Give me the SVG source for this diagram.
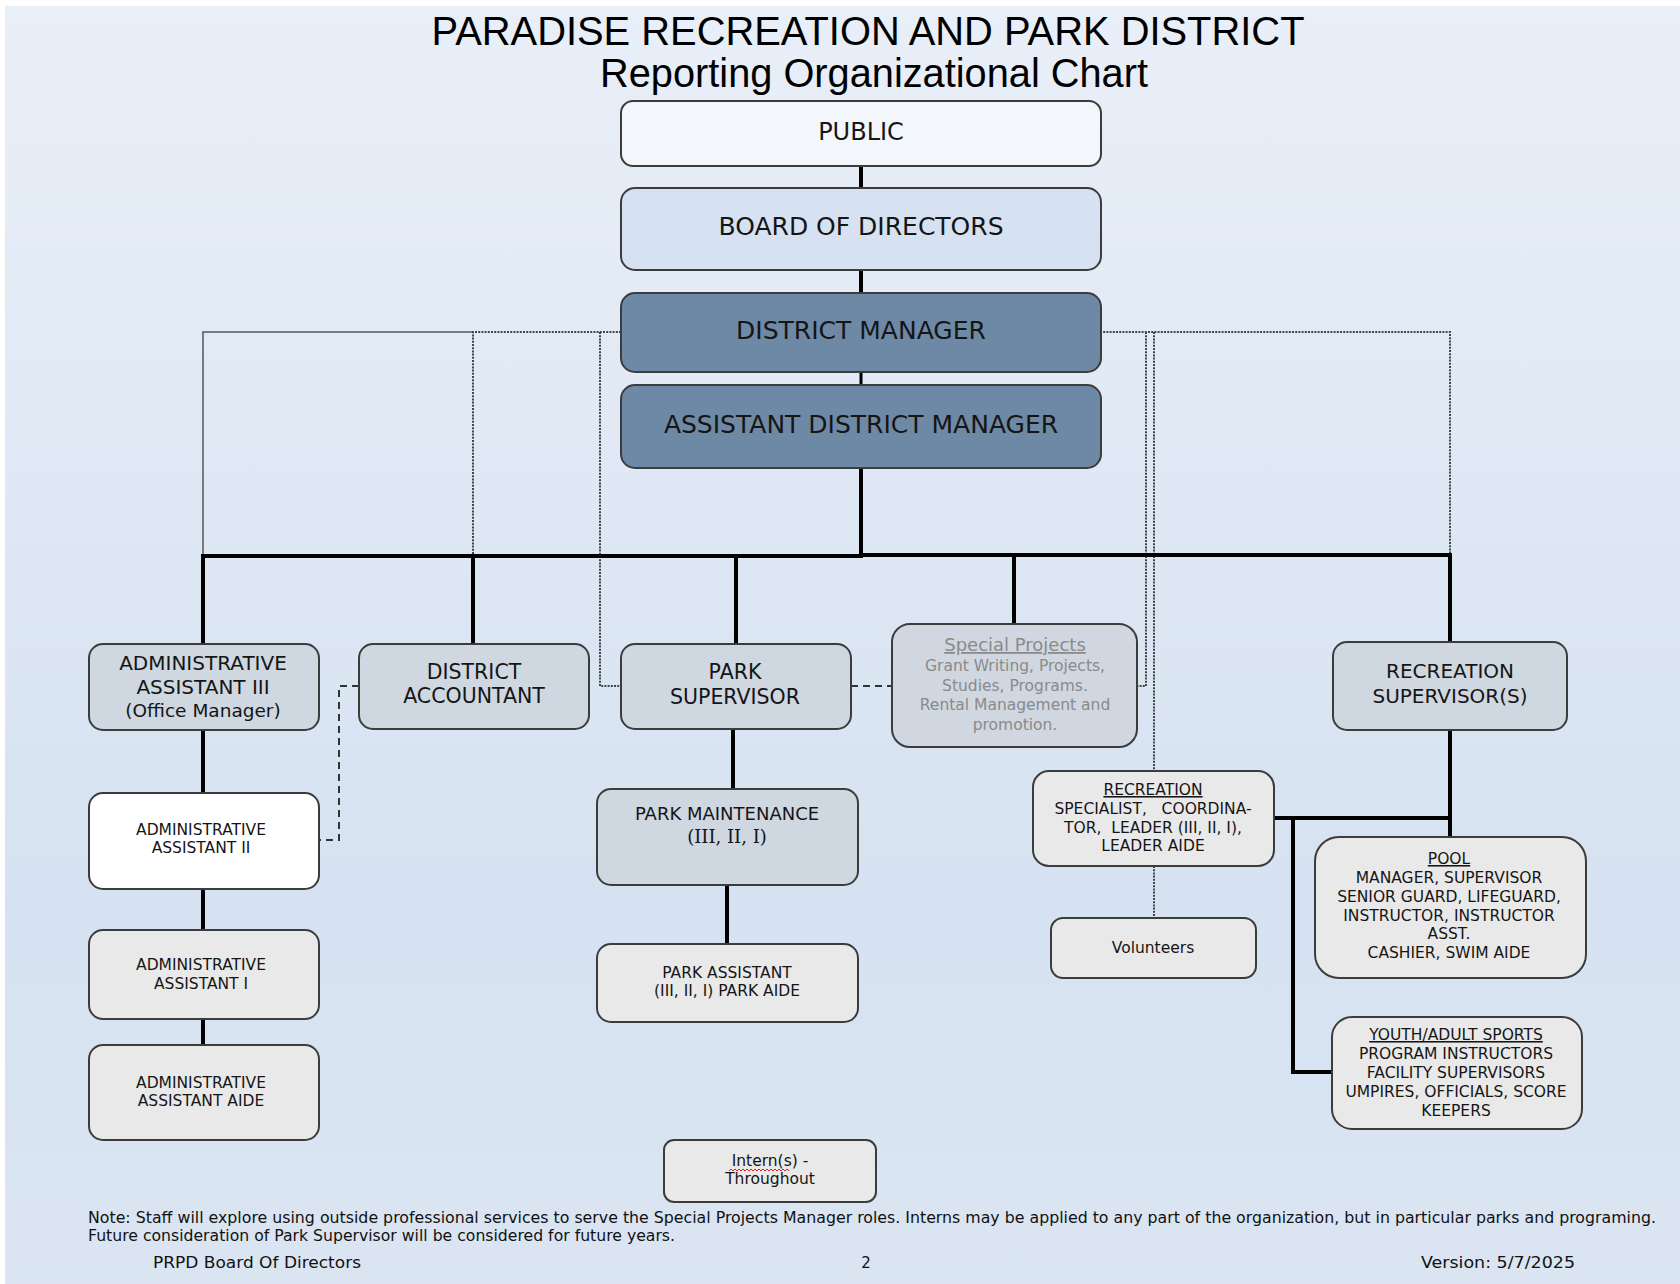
<svg xmlns="http://www.w3.org/2000/svg" width="1680" height="1284" viewBox="0 0 1680 1284">
<defs>
<linearGradient id="bg" x1="0" y1="0" x2="0" y2="1">
<stop offset="0" stop-color="#e9eff8"/>
<stop offset="0.7" stop-color="#d6e2f1"/>
<stop offset="1" stop-color="#dbe5f2"/>
</linearGradient>
<style>
.box{stroke:#3c3c3c;stroke-width:2}
.t{font-family:'DejaVu Sans','Noto Sans',sans-serif;fill:#151515;text-anchor:middle}
.title{font-family:'Liberation Sans Narrow','Liberation Sans',Arial,sans-serif;fill:#000;text-anchor:middle}
.foot{font-family:'DejaVu Sans','Noto Sans',sans-serif;fill:#111;font-size:15px}
.thick{stroke:#000;stroke-width:4;fill:none;stroke-linecap:square}
.thin{stroke:#555;stroke-width:1.5;fill:none}
.dot{stroke:#444;stroke-width:2;stroke-dasharray:2 1.2;fill:none}
.dash{stroke:#333;stroke-width:2;stroke-dasharray:7 5;fill:none}
.gb{fill:#cfd7e1}
.lg{fill:#e9e9e9}
.sp{font-family:'DejaVu Sans','Noto Sans',sans-serif;fill:#8a8a8a;text-anchor:middle}
</style>
</defs>
<rect x="0" y="0" width="1680" height="1284" fill="#ffffff"/>
<rect x="5" y="6" width="1675" height="1278" fill="url(#bg)"/>

<g id="title">
<text class="title" x="868" y="45" font-size="41" textLength="873" lengthAdjust="spacingAndGlyphs">PARADISE RECREATION AND PARK DISTRICT</text>
<text class="title" x="874" y="87" font-size="41" textLength="548" lengthAdjust="spacingAndGlyphs">Reporting Organizational Chart</text>
</g>

<g id="connectors">
<path class="thin" d="M473 332 H203 V556"/>
<path class="dot" d="M621 332 H473 V556"/>
<path class="dot" d="M600 332 V686 H621"/>
<path class="dot" d="M1100 332 H1450 V555"/>
<path class="dot" d="M1146 332 V686 H1137"/>
<path class="dot" d="M1154 332 V771"/>
<path class="dot" d="M1154 866 V918"/>
<path class="dash" d="M359 686 H339 V840 H319"/>
<path class="dash" d="M851 686 H892"/>
<path class="thick" d="M861 166 V188"/>
<path class="thick" d="M861 270 V293"/>
<path class="thick" style="stroke-width:3" d="M861 372 V385"/>
<path class="thick" d="M861 468 V556"/>
<path class="thick" d="M203 556 H861"/>
<path class="thick" d="M861 555 H1450"/>
<path class="thick" d="M203 556 V644"/>
<path class="thick" d="M473 556 V644"/>
<path class="thick" d="M736 556 V644"/>
<path class="thick" d="M1014 556 V624"/>
<path class="thick" d="M1450 555 V642"/>
<path class="thick" d="M203 730 V793"/>
<path class="thick" d="M203 889 V930"/>
<path class="thick" d="M203 1019 V1045"/>
<path class="thick" d="M733 729 V789"/>
<path class="thick" d="M727 885 V944"/>
<path class="thick" d="M1450 730 V837"/>
<path class="thick" d="M1450 818 H1275"/>
<path class="thick" d="M1293 818 V1072 H1332"/>
</g>

<g id="public">
<rect class="box" x="621" y="101" width="480" height="65" rx="12" fill="#f3f6fb"/>
<text class="t" x="861" y="140" font-size="24">PUBLIC</text>
</g>
<g id="board">
<rect class="box" x="621" y="188" width="480" height="82" rx="14" fill="#d6e2f1"/>
<text class="t" x="861" y="235" font-size="25">BOARD OF DIRECTORS</text>
</g>
<g id="district-manager">
<rect class="box" x="621" y="293" width="480" height="79" rx="14" fill="#6e89a6"/>
<text class="t" x="861" y="339" font-size="25">DISTRICT MANAGER</text>
</g>
<g id="assistant-district-manager">
<rect class="box" x="621" y="385" width="480" height="83" rx="14" fill="#6e89a6"/>
<text class="t" x="861" y="433" font-size="25">ASSISTANT DISTRICT MANAGER</text>
</g>
<g id="admin-3">
<rect class="box gb" x="89" y="644" width="230" height="86" rx="14"/>
<text class="t" x="203" y="670" font-size="20">ADMINISTRATIVE</text>
<text class="t" x="203" y="694" font-size="20">ASSISTANT III</text>
<text class="t" x="203" y="717" font-size="18.5">(Office Manager)</text>
</g>
<g id="district-accountant">
<rect class="box gb" x="359" y="644" width="230" height="85" rx="14"/>
<text class="t" x="474" y="679" font-size="20.5">DISTRICT</text>
<text class="t" x="474" y="703" font-size="20.5">ACCOUNTANT</text>
</g>
<g id="park-supervisor">
<rect class="box gb" x="621" y="644" width="230" height="85" rx="14"/>
<text class="t" x="735" y="679" font-size="20.5">PARK</text>
<text class="t" x="735" y="704" font-size="20.5">SUPERVISOR</text>
</g>
<g id="special-projects">
<rect class="box" x="892" y="624" width="245" height="123" rx="18" fill="#d0d7e0"/>
<text class="sp" x="1015" y="651" font-size="18" text-decoration="underline">Special Projects</text>
<text class="sp" x="1015" y="671" font-size="15.5">Grant Writing, Projects,</text>
<text class="sp" x="1015" y="691" font-size="15.5">Studies, Programs.</text>
<text class="sp" x="1015" y="710" font-size="15.5">Rental Management and</text>
<text class="sp" x="1015" y="730" font-size="15.5">promotion.</text>
</g>
<g id="recreation-supervisor">
<rect class="box gb" x="1333" y="642" width="234" height="88" rx="14"/>
<text class="t" x="1450" y="678" font-size="20">RECREATION</text>
<text class="t" x="1450" y="703" font-size="20">SUPERVISOR(S)</text>
</g>
<g id="admin-2">
<rect class="box" x="89" y="793" width="230" height="96" rx="14" fill="#ffffff"/>
<text class="t" x="201" y="835" font-size="15.5">ADMINISTRATIVE</text>
<text class="t" x="201" y="853" font-size="15.5">ASSISTANT II</text>
</g>
<g id="admin-1">
<rect class="box lg" x="89" y="930" width="230" height="89" rx="14"/>
<text class="t" x="201" y="970" font-size="15.5">ADMINISTRATIVE</text>
<text class="t" x="201" y="989" font-size="15.5">ASSISTANT I</text>
</g>
<g id="admin-aide">
<rect class="box lg" x="89" y="1045" width="230" height="95" rx="14"/>
<text class="t" x="201" y="1088" font-size="15.5">ADMINISTRATIVE</text>
<text class="t" x="201" y="1106" font-size="15.5">ASSISTANT AIDE</text>
</g>
<g id="park-maintenance">
<rect class="box gb" x="597" y="789" width="261" height="96" rx="14"/>
<text class="t" x="727" y="820" font-size="18">PARK MAINTENANCE</text>
<text class="t" x="727" y="843" font-size="18" style="font-family:'DejaVu Serif',serif">(III, II, I)</text>
</g>
<g id="park-assistant">
<rect class="box lg" x="597" y="944" width="261" height="78" rx="14"/>
<text class="t" x="727" y="978" font-size="15.5">PARK ASSISTANT</text>
<text class="t" x="727" y="996" font-size="15.5">(III, II, I) PARK AIDE</text>
</g>
<g id="interns">
<rect class="box lg" x="664" y="1140" width="212" height="62" rx="10"/>
<text class="t" x="770" y="1166" font-size="15.5">Intern(s) -</text>
<path d="M729 1171 l2 -2 l2 2 l2 -2 l2 2 l2 -2 l2 2 l2 -2 l2 2 l2 -2 l2 2 l2 -2 l2 2 l2 -2 l2 2 l2 -2 l2 2 l2 -2 l2 2 l2 -2 l2 2 l2 -2 l2 2 l2 -2 l2 2 l2 -2 l2 2 l2 -2 l2 2 l2 -2 l2 2" fill="none" stroke="#e02020" stroke-width="1"/>
<text class="t" x="770" y="1184" font-size="15.5">Throughout</text>
</g>
<g id="recreation">
<rect class="box lg" x="1033" y="771" width="241" height="95" rx="16"/>
<text class="t" x="1153" y="795" font-size="15.5" text-decoration="underline">RECREATION</text>
<text class="t" x="1153" y="814" font-size="15.5" style="white-space:pre">SPECIALIST,   COORDINA-</text>
<text class="t" x="1153" y="833" font-size="15.5" style="white-space:pre">TOR,  LEADER (III, II, I),</text>
<text class="t" x="1153" y="851" font-size="15.5">LEADER AIDE</text>
</g>
<g id="volunteers">
<rect class="box lg" x="1051" y="918" width="205" height="60" rx="12"/>
<text class="t" x="1153" y="953" font-size="15.5">Volunteers</text>
</g>
<g id="pool">
<rect class="box lg" x="1315" y="837" width="271" height="141" rx="24"/>
<text class="t" x="1449" y="864" font-size="15.5" text-decoration="underline">POOL</text>
<text class="t" x="1449" y="883" font-size="15.5">MANAGER, SUPERVISOR</text>
<text class="t" x="1449" y="902" font-size="15.5">SENIOR GUARD, LIFEGUARD,</text>
<text class="t" x="1449" y="921" font-size="15.5">INSTRUCTOR, INSTRUCTOR</text>
<text class="t" x="1449" y="939" font-size="15.5">ASST.</text>
<text class="t" x="1449" y="958" font-size="15.5">CASHIER, SWIM AIDE</text>
</g>
<g id="youth-adult-sports">
<rect class="box lg" x="1332" y="1017" width="250" height="112" rx="20"/>
<text class="t" x="1456" y="1040" font-size="15.5" text-decoration="underline">YOUTH/ADULT SPORTS</text>
<text class="t" x="1456" y="1059" font-size="15.5">PROGRAM INSTRUCTORS</text>
<text class="t" x="1456" y="1078" font-size="15.5">FACILITY SUPERVISORS</text>
<text class="t" x="1456" y="1097" font-size="15.5">UMPIRES, OFFICIALS, SCORE</text>
<text class="t" x="1456" y="1116" font-size="15.5">KEEPERS</text>
</g>

<g id="footer">
<text class="foot" x="88" y="1223" font-size="14.5" textLength="1568" lengthAdjust="spacingAndGlyphs">Note:  Staff will explore using outside professional services to serve the Special Projects Manager roles.  Interns may be applied to any part of the organization, but in particular parks and programing.</text>
<text class="foot" x="88" y="1241" font-size="14.5" textLength="587" lengthAdjust="spacingAndGlyphs">Future consideration of Park Supervisor will be considered for future years.</text>
<text class="foot" x="153" y="1268" textLength="208" lengthAdjust="spacingAndGlyphs">PRPD Board Of Directors</text>
<text class="foot" x="866" y="1268" text-anchor="middle">2</text>
<text class="foot" x="1421" y="1268" textLength="154" lengthAdjust="spacingAndGlyphs">Version: 5/7/2025</text>
</g>
</svg>
